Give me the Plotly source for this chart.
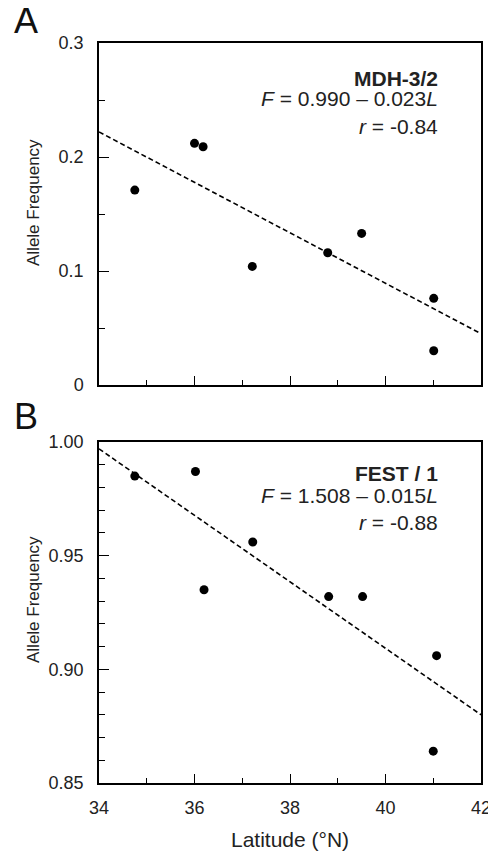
import plotly.graph_objects as go
from plotly.subplots import make_subplots

# panel A : MDH-3/2
lat_a = [34.75, 36.0, 36.18, 37.21, 38.79, 39.5, 41.01, 41.01]
freq_a = [0.171, 0.212, 0.209, 0.104, 0.116, 0.133, 0.076, 0.030]
fit_lat_a = [34, 42]
fit_freq_a = [0.222, 0.045]

# panel B : FEST / 1
lat_b = [34.75, 36.02, 36.2, 37.22, 38.81, 39.52, 41.07, 41.0]
freq_b = [0.985, 0.987, 0.935, 0.956, 0.932, 0.932, 0.906, 0.864]
fit_lat_b = [34, 42]
fit_freq_b = [0.997, 0.880]

# the page body has an 8px margin, so the figure is laid out 8px smaller
OFF = 8
W, H = 496 - OFF, 852 - OFF
FONT = "Liberation Sans, Arial, sans-serif"


def px(x_ref):
    return (x_ref - OFF) / W


def py(y_ref):
    return 1 - (y_ref - OFF) / H


fig = make_subplots(rows=2, cols=1)

for row, (lx, fy, flx, ffy) in enumerate(
        [(lat_a, freq_a, fit_lat_a, fit_freq_a),
         (lat_b, freq_b, fit_lat_b, fit_freq_b)], start=1):
    fig.add_trace(go.Scatter(x=flx, y=ffy, mode="lines",
                             line=dict(color="black", width=1.6, dash="5px,3px"),
                             showlegend=False), row=row, col=1)
    fig.add_trace(go.Scatter(x=lx, y=fy, mode="markers",
                             marker=dict(color="black", size=9),
                             showlegend=False), row=row, col=1)

axis_common = dict(showline=True, linecolor="black", linewidth=1.5, mirror=True,
                   showgrid=False, zeroline=False, ticks="inside", automargin=False,
                   tickcolor="black", tickwidth=1.2,
                   tickfont=dict(family=FONT, size=18, color="#222"))

fig.update_xaxes(domain=[px(99), px(481)], range=[34, 42], dtick=2, tick0=34, ticklen=9,
                 minor=dict(dtick=1, ticks="inside", ticklen=5, tickcolor="black"),
                 ticklabelstandoff=8, **axis_common)
fig.update_xaxes(showticklabels=False, row=1, col=1)

fig.update_yaxes(domain=[py(385), py(43)], range=[0, 0.3], dtick=0.1, tick0=0,
                 ticklen=10, ticklabelstandoff=10,
                 minor=dict(dtick=0.05, ticks="inside", ticklen=6, tickcolor="black"),
                 row=1, col=1, **axis_common)
fig.update_yaxes(domain=[py(783), py(442)], range=[0.85, 1.0], dtick=0.05, tick0=0.85,
                 tickformat=".2f", ticklen=10, ticklabelstandoff=10,
                 minor=dict(dtick=0.01, ticks="inside", ticklen=6, tickcolor="black"),
                 row=2, col=1, **axis_common)

annots = []
txt_font = dict(family=FONT, size=21, color="#222")
for y_px, text in [(78, "<b>MDH-3/2</b>"),
                   (99, "<i>F</i> = 0.990 – 0.023<i>L</i>"),
                   (126, "<i>r</i> = -0.84"),
                   (473, "<b>FEST / 1</b>"),
                   (495, "<i>F</i> = 1.508 – 0.015<i>L</i>"),
                   (522, "<i>r</i> = -0.88")]:
    annots.append(dict(x=px(440), y=py(y_px), xref="paper", yref="paper",
                       xanchor="right", yanchor="middle", showarrow=False,
                       text=text, font=txt_font))

for y_px, text in [(20, "A"), (417, "B")]:
    annots.append(dict(x=px(26), y=py(y_px), xref="paper", yref="paper",
                       xanchor="center", yanchor="middle", showarrow=False,
                       text=text, font=dict(family=FONT, size=36, color="#111")))

for y_px in [203, 600]:
    annots.append(dict(x=px(33), y=py(y_px), xref="paper", yref="paper",
                       xanchor="center", yanchor="middle", showarrow=False,
                       textangle=-90, text="Allele Frequency",
                       font=dict(family=FONT, size=17, color="#222")))

annots.append(dict(x=px(290), y=py(839), xref="paper", yref="paper",
                   xanchor="center", yanchor="middle", showarrow=False,
                   text="Latitude (°N)", font=dict(family=FONT, size=21, color="#222")))

fig.update_layout(width=W, height=H,
                  margin=dict(l=0, r=0, t=0, b=0, autoexpand=False),
                  plot_bgcolor="white", paper_bgcolor="white",
                  annotations=annots)

fig.write_html("out.html")
